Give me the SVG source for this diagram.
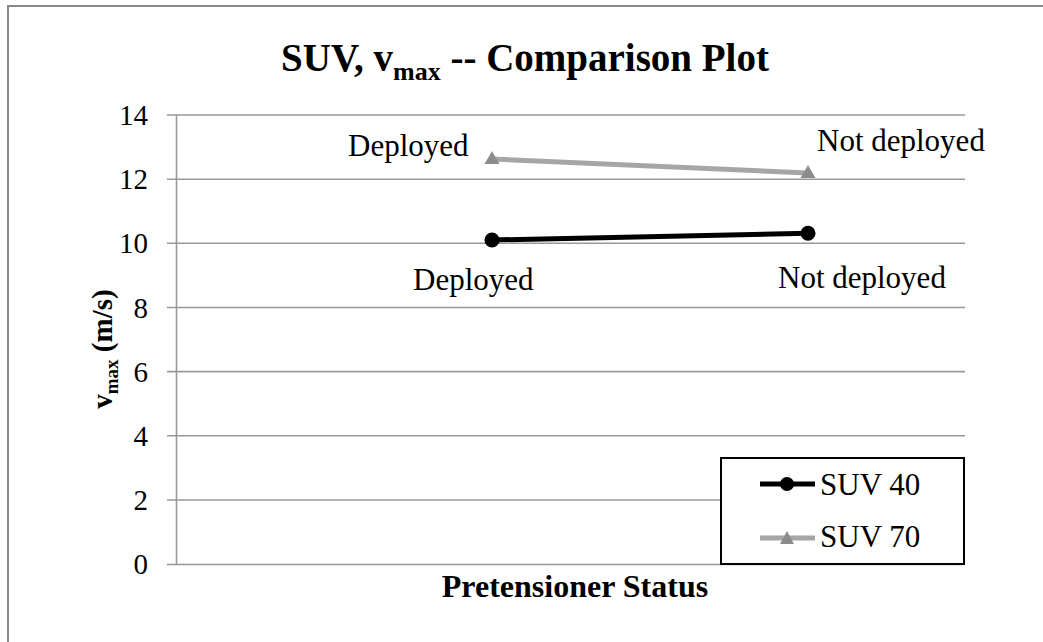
<svg xmlns="http://www.w3.org/2000/svg" width="1043" height="642" viewBox="0 0 1043 642">
<style>
.t{font-family:"Liberation Serif","Times New Roman",serif;fill:#000}
.b{font-weight:bold}
.grid{stroke:#999;stroke-width:1.6;fill:none}
</style>
<rect x="0" y="0" width="1043" height="642" fill="#fff"/>
<rect x="8" y="6" width="1040" height="642" fill="#fff" stroke="#878787" stroke-width="2"/>
<g id="title">
<text class="t b" x="525" y="71" font-size="39" text-anchor="middle">SUV, v<tspan font-size="26" dy="9">max</tspan><tspan dy="-9"> -- Comparison Plot</tspan></text>
</g>
<g id="axes">
<path class="grid" d="M167 115H965M167 179.2H965M167 243.3H965M167 307.5H965M167 371.6H965M167 435.8H965M167 500H721M167 564.5H965M176.5 115V564.5"/>
<g class="t" font-size="29" text-anchor="end" font-family="Liberation Serif, serif">
<text x="148" y="125">14</text>
<text x="148" y="189">12</text>
<text x="148" y="253">10</text>
<text x="148" y="318">8</text>
<text x="148" y="382">6</text>
<text x="148" y="446">4</text>
<text x="148" y="510">2</text>
<text x="148" y="574">0</text>
</g>
<text class="t b" font-size="29" transform="translate(112 349) rotate(-90)" text-anchor="middle">v<tspan font-size="19" dy="6">max</tspan><tspan dy="-6"> (m/s)</tspan></text>
<text class="t b" x="575" y="597" font-size="32" text-anchor="middle">Pretensioner Status</text>
</g>
<g id="connectors">
<line x1="492" y1="159" x2="808" y2="173" stroke="#a6a6a6" stroke-width="5"/>
<line x1="492" y1="240" x2="808" y2="233.3" stroke="#000" stroke-width="5"/>
</g>
<g id="suv70-deployed">
<polygon points="492,151 499.5,164 484.5,164" fill="#8c8c8c"/>
<text class="t" x="348" y="156" font-size="31">Deployed</text>
</g>
<g id="suv70-notdeployed">
<polygon points="808,165 815.5,178 800.5,178" fill="#8c8c8c"/>
<text class="t" x="817" y="151" font-size="31">Not deployed</text>
</g>
<g id="suv40-deployed">
<circle cx="492" cy="240" r="7.5" fill="#000"/>
<text class="t" x="413" y="290" font-size="31">Deployed</text>
</g>
<g id="suv40-notdeployed">
<circle cx="808" cy="233.3" r="7.5" fill="#000"/>
<text class="t" x="778" y="288" font-size="31">Not deployed</text>
</g>
<g id="legend">
<rect x="721" y="458" width="243" height="106" fill="#fff" stroke="#000" stroke-width="2"/>
<line x1="760" y1="484" x2="815" y2="484" stroke="#000" stroke-width="5"/>
<circle cx="787" cy="484" r="7" fill="#000"/>
<text class="t" x="820" y="495" font-size="31">SUV 40</text>
<line x1="760" y1="538" x2="815" y2="538" stroke="#a6a6a6" stroke-width="5"/>
<polygon points="787,531 794,544 780,544" fill="#8c8c8c"/>
<text class="t" x="820" y="547" font-size="31">SUV 70</text>
</g>
</svg>
